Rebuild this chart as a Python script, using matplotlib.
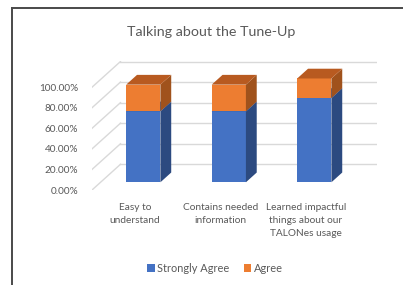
import matplotlib
matplotlib.use("Agg")
import matplotlib.pyplot as plt
from matplotlib.patches import Polygon
from matplotlib.lines import Line2D

plt.rcParams['font.family'] = ['Lato', 'DejaVu Sans']

title = "Talking about the Tune-Up"
categories = ["Easy to\nunderstand", "Contains needed\ninformation",
              "Learned impactful\nthings about our\nTALONes usage"]
series_names = ["Strongly Agree", "Agree"]
strongly_agree = [69.0, 69.0, 82.0]
agree = [26.0, 26.0, 19.0]
y_ticks = [0, 20, 40, 60, 80, 100]
y_tick_labels = ["0.00%", "20.00%", "40.00%", "60.00%", "80.00%", "100.00%"]

# styling / geometry
front_colors = ["#4472C4", "#ED7D31"]
side_colors = ["#2C4A80", "#A0521C"]
top_colors = ["#3A62A8", "#B85A20"]
text_color = "#595959"
grid_color = "#D9D9D9"
DX, DY = 0.333, 25.0     # oblique depth offset (category units, percent units)
d0, dd = 0.30, 0.38      # bar front depth, bar depth
bw = 0.40

W, H = 403, 285
fig = plt.figure(figsize=(W / 100, H / 100), dpi=100)
ax = fig.add_axes([92 / W, 1 - 190 / H, 285 / W, 129 / H])
ax.set_xlim(-0.5, 2.5 + DX)
ax.set_ylim(0, 100 + DY + 0.5)
for s in ax.spines.values():
    s.set_visible(False)
ax.patch.set_visible(False)

# gridlines: back wall + floor-to-wall diagonals
for t in y_ticks:
    ax.plot([-0.5 + DX, 2.5 + DX], [t + DY, t + DY], color=grid_color, lw=1.0, zorder=1)
    ax.plot([-0.5, -0.5 + DX], [t, t + DY], color=grid_color, lw=1.0, zorder=1)

xs = list(range(len(categories)))
bottoms = [0.0] * len(xs)
stacks = [strongly_agree, agree]
bars = []
for si, vals in enumerate(stacks):
    fx = [x + d0 * DX for x in xs]
    fb = [b + d0 * DY for b in bottoms]
    b = ax.bar(fx, vals, width=bw, bottom=fb, color=front_colors[si],
               label=series_names[si], zorder=3 + si, linewidth=0)
    bars.append(b)
    for i, x in enumerate(fx):
        xl, xr = x - bw / 2, x + bw / 2
        yb, yt = fb[i], fb[i] + vals[i]
        side = Polygon([(xr, yb), (xr + dd * DX, yb + dd * DY),
                        (xr + dd * DX, yt + dd * DY), (xr, yt)],
                       closed=True, facecolor=side_colors[si], edgecolor='none',
                       zorder=3 + si)
        ax.add_patch(side)
        top = Polygon([(xl, yt), (xr, yt), (xr + dd * DX, yt + dd * DY),
                       (xl + dd * DX, yt + dd * DY)],
                      closed=True, facecolor=top_colors[si], edgecolor='none',
                      zorder=3 + si)
        ax.add_patch(top)
    bottoms = [bottoms[i] + vals[i] for i in range(len(xs))]

ax.set_yticks(y_ticks)
ax.set_yticklabels(y_tick_labels, color=text_color, fontsize=7.2)
ax.set_xticks(xs)
ax.set_xticklabels(categories, color=text_color, fontsize=7.3, linespacing=1.6)
ax.tick_params(axis='both', length=0)
ax.tick_params(axis='y', pad=10)
ax.tick_params(axis='x', pad=9)

fig.text(211 / W, 1 - 32 / H, title, ha='center', va='center',
         fontsize=10.3, color=text_color)

fig.legend(handles=bars, labels=series_names, loc='center',
           bbox_to_anchor=(215 / W, 1 - 268 / H), ncol=2, frameon=False,
           fontsize=7.9, labelcolor=text_color, handlelength=0.7,
           handleheight=0.7, handletextpad=0.25, columnspacing=1.3)

# chart frame (left & top visible)
fig.add_artist(Line2D([12 / W, 12 / W], [0, 1 - 8 / H], transform=fig.transFigure,
                      color="#4a4a4a", lw=1.4))
fig.add_artist(Line2D([12 / W, 1], [1 - 8 / H, 1 - 8 / H], transform=fig.transFigure,
                      color="#4a4a4a", lw=1.4))

fig.savefig("out.png", dpi=100)
